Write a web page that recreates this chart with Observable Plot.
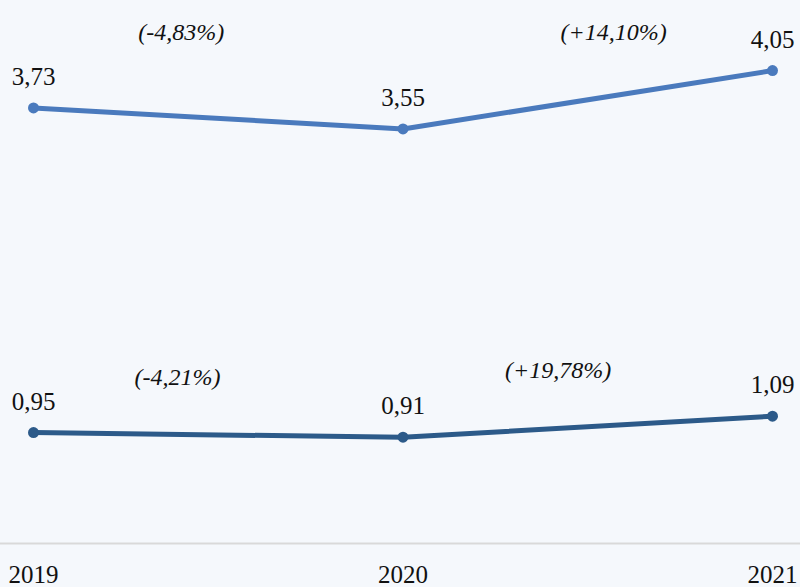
<!DOCTYPE html>
<html>
<head>
<meta charset="utf-8">
<script src="https://cdn.jsdelivr.net/npm/d3@7"></script>
<script src="https://cdn.jsdelivr.net/npm/@observablehq/plot@0.6"></script>
<style>
  html, body { margin: 0; padding: 0; background: #f5f8fc; }
  #chart { width: 800px; height: 587px; }
  #chart svg text { font-family: "Liberation Serif", "Times New Roman", serif !important; }
</style>
</head>
<body>
<div id="chart"></div>
<script>
// Data
const years = [2019, 2020, 2021];
const seriesTop = [3.73, 3.55, 4.05];
const seriesBottom = [0.95, 0.91, 1.09];
const valueLabelsTop = ["3,73", "3,55", "4,05"];
const valueLabelsBottom = ["0,95", "0,91", "1,09"];
const changeLabelsTop = ["(-4,83%)", "(+14,10%)"];
const changeLabelsBottom = ["(-4,21%)", "(+19,78%)"];
// annotation anchors in data units (year, value)
const changeYearsTop = [2019.40, 2020.57];
const changeValuesTop = [4.375, 4.375];
const changeYearsBottom = [2019.39, 2020.42];
const changeValuesBottom = [1.42, 1.48];

const rowsTop = years.map((y, i) => ({year: y, value: seriesTop[i], label: valueLabelsTop[i]}));
const rowsBottom = years.map((y, i) => ({year: y, value: seriesBottom[i], label: valueLabelsBottom[i]}));
const changesTop = changeLabelsTop.map((t, i) => ({year: changeYearsTop[i], value: changeValuesTop[i], label: t}));
const changesBottom = changeLabelsBottom.map((t, i) => ({year: changeYearsBottom[i], value: changeValuesBottom[i], label: t}));

const colorTop = "#4a7abd";
const colorBottom = "#2c5a89";
const font = "Liberation Serif";

const chart = Plot.plot({
  width: 800,
  height: 587,
  marginLeft: 33,
  marginRight: 28,
  marginTop: 0,
  marginBottom: 44,
  style: {background: "#f5f8fc", fontFamily: font, color: "#111", overflow: "visible"},
  x: {type: "linear", domain: [2019, 2021], axis: null},
  y: {domain: [0, 4.65], axis: null},
  marks: [
    Plot.ruleY([0], {stroke: "#d9d9d9", strokeWidth: 2, insetLeft: -33, insetRight: -28}),
    Plot.text(years, {x: d => d, y: 0, dy: 31, text: d => String(d), fontSize: 25, fontFamily: font, fill: "#111"}),
    Plot.line(rowsTop, {x: "year", y: "value", stroke: colorTop, strokeWidth: 5}),
    Plot.dot(rowsTop, {x: "year", y: "value", r: 5.5, fill: colorTop}),
    Plot.line(rowsBottom, {x: "year", y: "value", stroke: colorBottom, strokeWidth: 5}),
    Plot.dot(rowsBottom, {x: "year", y: "value", r: 5.5, fill: colorBottom}),
    Plot.text(rowsTop, {x: "year", y: "value", text: "label", dy: -31, fontSize: 25, fontFamily: font, fill: "#111"}),
    Plot.text(rowsBottom, {x: "year", y: "value", text: "label", dy: -31, fontSize: 25, fontFamily: font, fill: "#111"}),
    Plot.text(changesTop, {x: "year", y: "value", text: "label", fontSize: 24, fontFamily: font, fontStyle: "italic", fill: "#111"}),
    Plot.text(changesBottom, {x: "year", y: "value", text: "label", fontSize: 24, fontFamily: font, fontStyle: "italic", fill: "#111"})
  ]
});
document.getElementById("chart").appendChild(chart);
</script>
</body>
</html>
